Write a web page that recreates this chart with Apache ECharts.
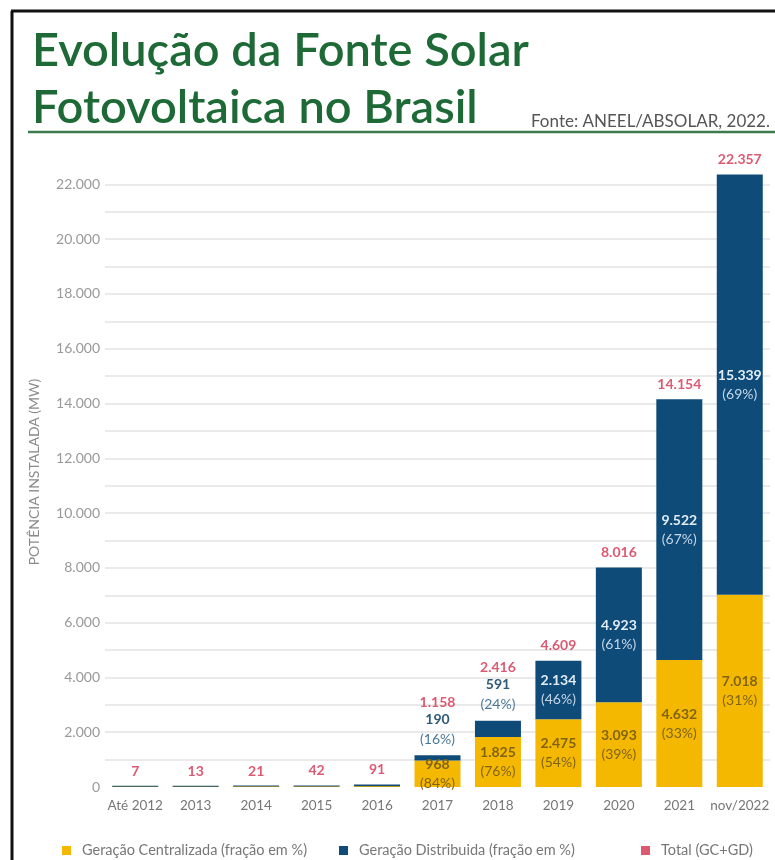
<!DOCTYPE html>
<html>
<head>
<meta charset="utf-8">
<script src="https://cdn.jsdelivr.net/npm/echarts@6/dist/echarts.min.js"></script>
<style>
  html, body { margin: 0; padding: 0; background: #fff; }
  #chart { width: 775px; height: 860px; }
</style>
</head>
<body>
<div id="chart"></div>
<script>
// categorias e valores (MW)
var categories = ['Até 2012', '2013', '2014', '2015', '2016', '2017', '2018', '2019', '2020', '2021', 'nov/2022'];
var gcValues = [5, 8, 15, 21, 24, 968, 1825, 2475, 3093, 4632, 7018];
var gdValues = [2, 5, 6, 21, 67, 190, 591, 2134, 4923, 9522, 15339];
var totalValues = [7, 13, 21, 42, 91, 1158, 2416, 4609, 8016, 14154, 22357];
var gcPct = [null, null, null, null, null, 84, 76, 54, 39, 33, 31];
var gdPct = [null, null, null, null, null, 16, 24, 46, 61, 67, 69];

var GREEN = '#1e6a37';
var YELLOW = '#f5b800';
var NAVY = '#0f4b78';
var RED = '#d3304d';
var FONT = 'Lato';

function fmt(v) {
  return String(v).replace(/\B(?=(\d{3})+(?!\d))/g, '.');
}

var chart = echarts.init(document.getElementById('chart'));

// GC: rotulo dentro da barra
var gcData = gcValues.map(function (v, i) {
  var item = { value: v };
  if (gcPct[i] == null) item.label = { show: false };
  return item;
});

// GD: rotulo acima quando a barra e pequena
var gdData = gdValues.map(function (v, i) {
  var item = { value: v };
  if (gdPct[i] == null) {
    item.label = { show: false };
  } else if (v < 1000) {
    item.label = {
      position: 'top',
      distance: 6,
      rich: {
        v: { color: '#2d5a78', fontWeight: 'bold', fontSize: 14, lineHeight: 20, fontFamily: FONT },
        p: { color: '#4a7898', fontSize: 14, lineHeight: 20, fontFamily: FONT }
      }
    };
  }
  return item;
});

var totalData = totalValues.map(function (v, i) {
  var item = { value: v };
  if (gdPct[i] != null && gdValues[i] < 1000) {
    item.label = { offset: [0, -38] };
  }
  return item;
});

function legendItem(left, name) {
  return {
    left: left,
    top: 838,
    itemWidth: 9,
    itemHeight: 9,
    icon: 'rect',
    textStyle: { color: '#777', fontSize: 14.5, fontFamily: FONT, padding: [0, 0, 0, 6] },
    data: [name]
  };
}

var option = {
  backgroundColor: '#fff',
  title: {
    text: 'Evolução da Fonte Solar\nFotovoltaica no Brasil',
    left: 27,
    top: 17,
    textStyle: {
      color: GREEN,
      fontFamily: FONT,
      fontWeight: 600,
      fontSize: 47,
      lineHeight: 57
    }
  },
  graphic: [
    { type: 'line', shape: { x1: 12, y1: 11, x2: 12, y2: 860 }, style: { stroke: '#111', lineWidth: 3 } },
    { type: 'line', shape: { x1: 11, y1: 11, x2: 775, y2: 11 }, style: { stroke: '#111', lineWidth: 3 } },
    { type: 'line', shape: { x1: 28, y1: 132, x2: 775, y2: 132 }, style: { stroke: '#3d7a4c', lineWidth: 2.5 } },
    {
      type: 'text', left: 531, top: 113,
      style: { text: 'Fonte: ANEEL/ABSOLAR, 2022.', fill: '#555', font: '17px Lato' }
    }
  ],
  legend: [
    legendItem(57, 'Geração Centralizada (fração em %)'),
    legendItem(334, 'Geração Distribuida (fração em %)'),
    legendItem(636, 'Total (GC+GD)')
  ],
  grid: { left: 105, right: 5, top: 157, bottom: 73 },
  xAxis: {
    type: 'category',
    data: categories,
    axisLine: { show: false },
    axisTick: { show: false },
    axisLabel: { color: '#777', fontSize: 13.5, fontFamily: FONT, margin: 12, interval: 0 }
  },
  yAxis: {
    type: 'value',
    min: 0,
    max: 23000,
    interval: 1000,
    name: 'POTÊNCIA INSTALADA (MW)',
    nameLocation: 'middle',
    nameGap: 64,
    nameTextStyle: { color: '#8a8a8a', fontSize: 14, fontFamily: FONT },
    axisLine: { show: false },
    axisTick: { show: false },
    axisLabel: {
      color: '#999',
      fontSize: 14,
      fontFamily: FONT,
      margin: 5,
      formatter: function (v) { return v % 2000 === 0 ? fmt(v) : ''; }
    },
    splitLine: { show: true, showMaxLine: false, showMinLine: false, lineStyle: { color: '#e3e3e3', width: 1.5 } }
  },
  series: [
    {
      name: 'Geração Centralizada (fração em %)',
      type: 'bar',
      stack: 'pot',
      barWidth: 46,
      barMinHeight: 1,
      itemStyle: { color: YELLOW },
      label: {
        show: true,
        position: 'inside',
        formatter: function (p) { return '{v|' + fmt(p.value) + '}\n{p|(' + gcPct[p.dataIndex] + '%)}'; },
        rich: {
          v: { color: '#806414', fontWeight: 'bold', fontSize: 14, lineHeight: 19, fontFamily: FONT },
          p: { color: '#806414', fontSize: 14, lineHeight: 19, fontFamily: FONT }
        }
      },
      data: gcData
    },
    {
      name: 'Geração Distribuida (fração em %)',
      type: 'bar',
      stack: 'pot',
      barWidth: 46,
      barMinHeight: 1,
      itemStyle: { color: NAVY },
      label: {
        show: true,
        position: 'inside',
        formatter: function (p) { return '{v|' + fmt(p.value) + '}\n{p|(' + gdPct[p.dataIndex] + '%)}'; },
        rich: {
          v: { color: '#e2ecf4', fontWeight: 'bold', fontSize: 14, lineHeight: 19, fontFamily: FONT },
          p: { color: '#c4d6e6', fontSize: 14, lineHeight: 19, fontFamily: FONT }
        }
      },
      data: gdData
    },
    {
      name: 'Total (GC+GD)',
      type: 'scatter',
      symbolSize: 0.1,
      itemStyle: { color: RED },
      label: {
        show: true,
        position: 'top',
        distance: 8,
        color: RED,
        fontWeight: 'bold',
        fontSize: 14,
        fontFamily: FONT,
        formatter: function (p) { return fmt(p.value); }
      },
      data: totalData
    }
  ]
};

chart.setOption(option);
</script>
</body>
</html>
